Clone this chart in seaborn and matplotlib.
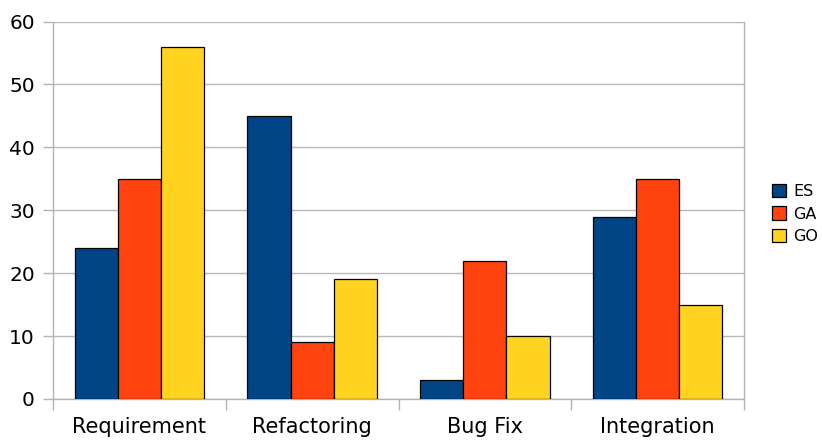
import matplotlib
matplotlib.use("Agg")
import matplotlib.pyplot as plt
import seaborn as sns
import pandas as pd
import numpy as np

categories = ["Requirement", "Refactoring", "Bug Fix", "Integration"]
series = ["ES", "GA", "GO"]
es_values = [24, 45, 3, 29]
ga_values = [35, 9, 22, 35]
go_values = [56, 19, 10, 15]
palette = ["#004586", "#ff420e", "#ffd320"]

rows = []
for name, vals in zip(series, [es_values, ga_values, go_values]):
    for cat, v in zip(categories, vals):
        rows.append({"category": cat, "series": name, "value": v})
df = pd.DataFrame(rows)

sns.set_theme(style="white")
plt.rcParams["font.family"] = ["DejaVu Sans"]
plt.rcParams["text.color"] = "black"

fig = plt.figure(figsize=(8.22, 4.43), dpi=100)
ax = fig.add_axes([53 / 822, 1 - 399 / 443, (744 - 53) / 822, (399 - 21.5) / 443])

sns.barplot(data=df, x="category", y="value", hue="series", order=categories,
            hue_order=series, palette=palette, saturation=1, width=0.75,
            edgecolor="black", linewidth=0.9, ax=ax, legend=True, zorder=3)

ax.set_ylim(0, 60)
ax.set_xlim(-0.5, 3.5)
ax.set_yticks(np.arange(0, 61, 10))
ax.yaxis.grid(True, color="#b8b8b8", linewidth=1)
ax.set_axisbelow(True)
ax.set_xlabel("")
ax.set_ylabel("")

grey = "#b3b3b3"
for side in ["left", "right", "bottom", "top"]:
    ax.spines[side].set_color(grey)
    ax.spines[side].set_linewidth(1)
ax.spines["top"].set_visible(False)

ax.tick_params(axis="y", which="major", length=7.5, color=grey, width=1,
               labelsize=14.5, pad=5.5, left=True, labelcolor="black")
ax.set_xticks(range(len(categories)))
ax.set_xticklabels(categories)
ax.tick_params(axis="x", which="major", length=0, labelsize=15, pad=13,
               labelcolor="black")
ax.set_xticks([-0.5, 0.5, 1.5, 2.5, 3.5], minor=True)
ax.tick_params(axis="x", which="minor", length=8, color=grey, width=1,
               bottom=True)

leg = ax.legend(loc="center left", bbox_to_anchor=(1.031, 0.49), frameon=False,
                fontsize=11.5, handlelength=0.9, handleheight=0.9,
                handletextpad=0.45, labelspacing=0.45, borderaxespad=0)
for t in leg.get_texts():
    t.set_color("black")

fig.savefig("out.png", dpi=100)
